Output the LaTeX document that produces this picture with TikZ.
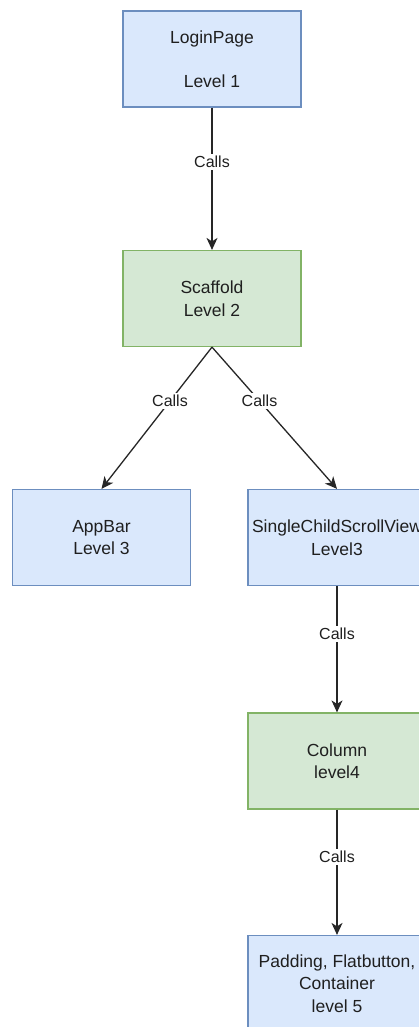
\documentclass[tikz,border=0pt]{standalone}
\usepackage{fontspec}
\setmainfont{Liberation Sans}
\usetikzlibrary{arrows.meta}
\definecolor{bluefill}{HTML}{DAE8FC}
\definecolor{bluedraw}{HTML}{6C8EBF}
\definecolor{greenfill}{HTML}{D5E8D4}
\definecolor{greendraw}{HTML}{82B366}
\begin{document}
\begin{tikzpicture}[x=1pt,y=-1pt,
  box/.style={draw, line width=1.2pt, minimum width=178pt, minimum height=96pt, inner sep=0pt, align=center, font=\fontsize{17.5}{22.5}\selectfont, text=black!88},
  bluebox/.style={box, fill=bluefill, draw=bluedraw},
  greenbox/.style={box, fill=greenfill, draw=greendraw},
  call/.style={draw=black!85, line width=1.3pt, -{Stealth[length=12pt,width=11pt,inset=3.5pt]}},
  lbl/.style={fill=white, text=black!88, font=\fontsize{16}{19}\selectfont, inner sep=2pt, pos=0.38}]
\useasboundingbox (0,0) rectangle (419,1027);
\fill[white] (0,0) rectangle (419,1027);
\clip (0,0) rectangle (419,1027);
\node[bluebox] (login) at (212,59) {LoginPage\\[21pt]Level 1};
\node[greenbox] (scaffold) at (212,298.5) {Scaffold\\Level 2};
\node[bluebox] (appbar) at (101.5,537.5) {AppBar\\Level 3};
\node[bluebox] (scsv) at (337,537.5) {SingleChildScrollView\\Level3};
\node[greenbox] (column) at (337,761) {Column\\level4};
\node[bluebox] (padding) at (337,983.5) {Padding, Flatbutton,\\Container\\level 5};
\draw[call] (login.south) -- node[lbl] {Calls} (scaffold.north);
\draw[call] (scaffold.south) -- node[lbl] {Calls} (appbar.north);
\draw[call] (scaffold.south) -- node[lbl] {Calls} (scsv.north);
\draw[call] (scsv.south) -- node[lbl] {Calls} (column.north);
\draw[call] (column.south) -- node[lbl] {Calls} (padding.north);
\end{tikzpicture}
\end{document}
